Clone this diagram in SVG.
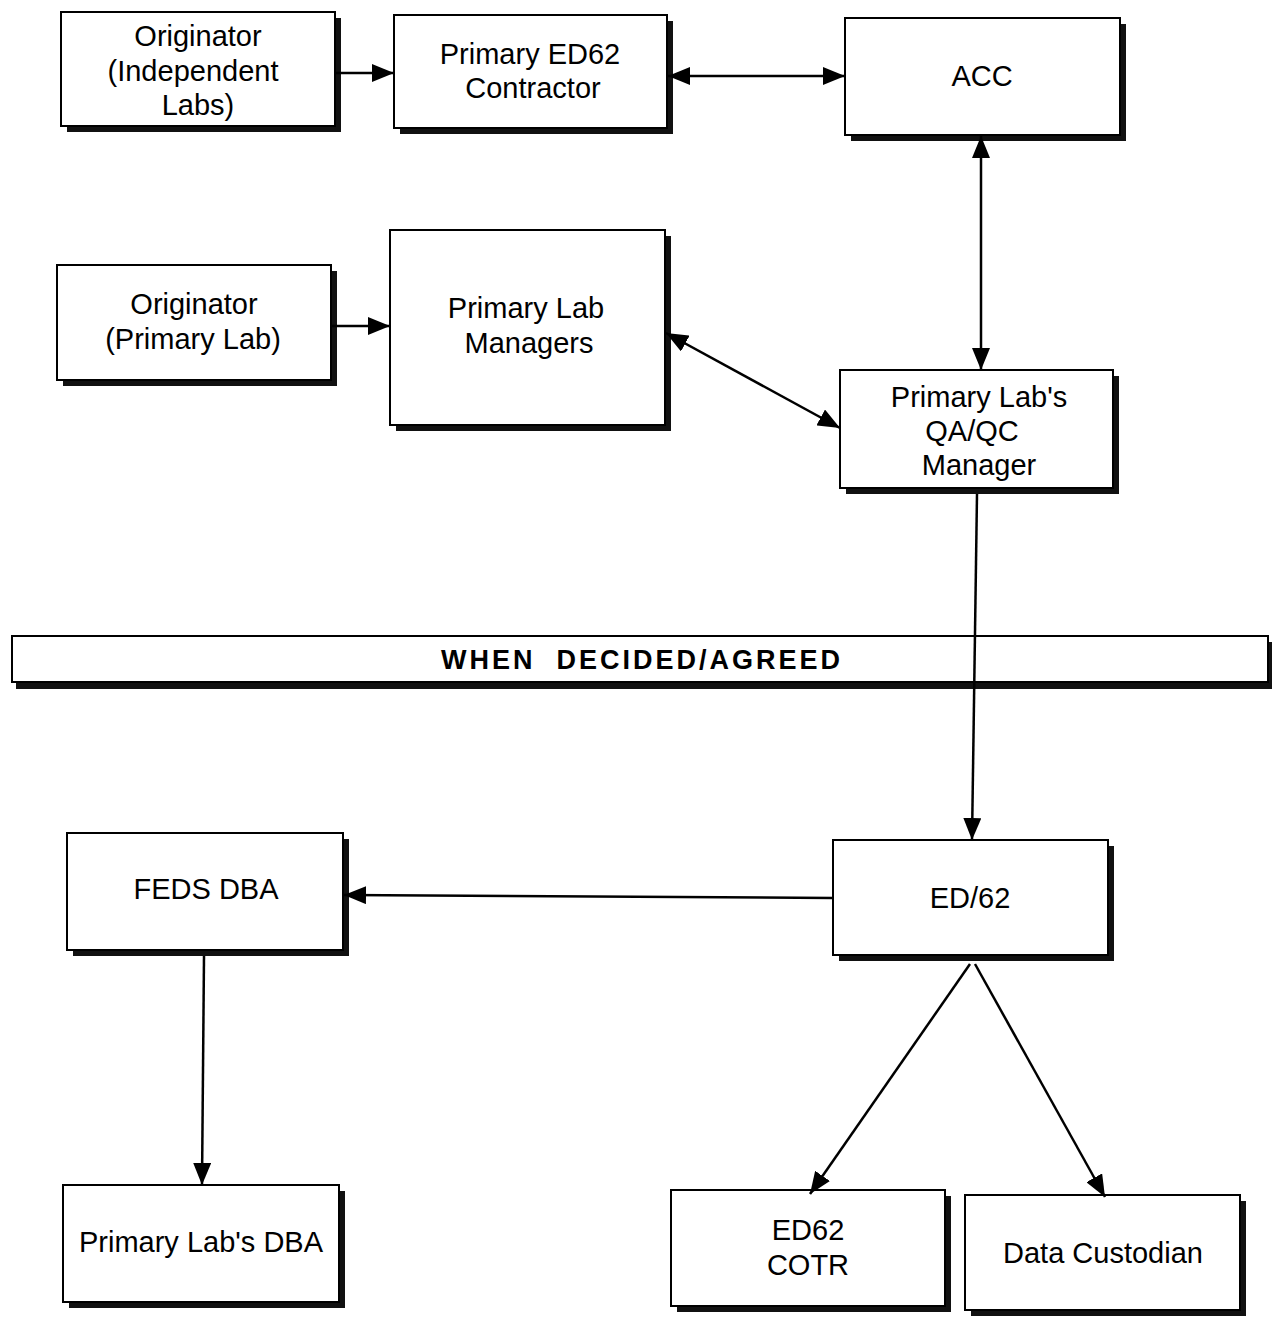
<svg xmlns="http://www.w3.org/2000/svg" width="1273" height="1319" viewBox="0 0 1273 1319">
<style>
.sh{fill:#111}
.bx{fill:#fff;stroke:#000;stroke-width:2}
.t{font-family:"Liberation Sans",Arial,sans-serif;font-size:29px;fill:#000;text-anchor:middle}
.b{font-family:"Liberation Sans",Arial,sans-serif;font-size:27px;font-weight:bold;letter-spacing:3px;fill:#000;text-anchor:middle;white-space:pre}
.c{stroke:#000;stroke-width:2.5;fill:none}
</style>
<defs>
<marker id="ah" viewBox="0 0 22 18" refX="22" refY="9" markerWidth="22" markerHeight="18" markerUnits="userSpaceOnUse" orient="auto-start-reverse">
<path d="M0,0 L22,9 L0,18 Z" fill="#000"/>
</marker>
</defs>
<rect width="1273" height="1319" fill="#fff"/>

<g id="n1"><rect class="sh" x="67" y="18" width="274" height="114"/><rect class="bx" x="61" y="12" width="274" height="114"/>
<text class="t" x="198" y="46">Originator</text><text class="t" x="193" y="81">(Independent</text><text class="t" x="198" y="115">Labs)</text></g>

<g id="n2"><rect class="sh" x="400" y="21" width="273" height="113"/><rect class="bx" x="394" y="15" width="273" height="113"/>
<text class="t" x="530" y="64">Primary ED62</text><text class="t" x="533" y="98">Contractor</text></g>

<g id="n3"><rect class="sh" x="851" y="24" width="275" height="117"/><rect class="bx" x="845" y="18" width="275" height="117"/>
<text class="t" x="982" y="86">ACC</text></g>

<g id="n4"><rect class="sh" x="63" y="271" width="274" height="115"/><rect class="bx" x="57" y="265" width="274" height="115"/>
<text class="t" x="194" y="314">Originator</text><text class="t" x="193" y="349">(Primary Lab)</text></g>

<g id="n5"><rect class="sh" x="396" y="236" width="275" height="195"/><rect class="bx" x="390" y="230" width="275" height="195"/>
<text class="t" x="526" y="318">Primary Lab</text><text class="t" x="529" y="353">Managers</text></g>

<g id="n6"><rect class="sh" x="846" y="376" width="273" height="118"/><rect class="bx" x="840" y="370" width="273" height="118"/>
<text class="t" x="979" y="407">Primary Lab's</text><text class="t" x="972" y="441">QA/QC</text><text class="t" x="979" y="475">Manager</text></g>

<g id="banner"><rect class="sh" x="16" y="642" width="1256" height="47"/><rect class="bx" x="12" y="636" width="1256" height="46"/>
<text class="b" x="642" y="669">WHEN  DECIDED/AGREED</text></g>

<g id="n7"><rect class="sh" x="73" y="839" width="276" height="117"/><rect class="bx" x="67" y="833" width="276" height="117"/>
<text class="t" x="206" y="899">FEDS DBA</text></g>

<g id="n8"><rect class="sh" x="839" y="846" width="275" height="115"/><rect class="bx" x="833" y="840" width="275" height="115"/>
<text class="t" x="970" y="908">ED/62</text></g>

<g id="n9"><rect class="sh" x="69" y="1191" width="276" height="117"/><rect class="bx" x="63" y="1185" width="276" height="117"/>
<text class="t" x="201" y="1252">Primary Lab's DBA</text></g>

<g id="n10"><rect class="sh" x="677" y="1196" width="274" height="116"/><rect class="bx" x="671" y="1190" width="274" height="116"/>
<text class="t" x="808" y="1240">ED62</text><text class="t" x="808" y="1275">COTR</text></g>

<g id="n11"><rect class="sh" x="971" y="1201" width="275" height="115"/><rect class="bx" x="965" y="1195" width="275" height="115"/>
<text class="t" x="1103" y="1263">Data Custodian</text></g>

<g id="connectors">
<line class="c" x1="335" y1="73" x2="394" y2="73" marker-end="url(#ah)"/>
<line class="c" x1="668" y1="76" x2="845" y2="76" marker-start="url(#ah)" marker-end="url(#ah)"/>
<line class="c" x1="981" y1="136" x2="981" y2="370" marker-start="url(#ah)" marker-end="url(#ah)"/>
<line class="c" x1="331" y1="326" x2="390" y2="326" marker-end="url(#ah)"/>
<line class="c" x1="666" y1="333" x2="840" y2="428" marker-start="url(#ah)" marker-end="url(#ah)"/>
<line class="c" x1="977" y1="494" x2="972" y2="840" marker-end="url(#ah)"/>
<line class="c" x1="833" y1="898" x2="344" y2="895" marker-end="url(#ah)"/>
<line class="c" x1="204" y1="956" x2="202" y2="1185" marker-end="url(#ah)"/>
<line class="c" x1="970" y1="964" x2="810" y2="1194" marker-end="url(#ah)"/>
<line class="c" x1="975" y1="964" x2="1105" y2="1197" marker-end="url(#ah)"/>
</g>
</svg>
